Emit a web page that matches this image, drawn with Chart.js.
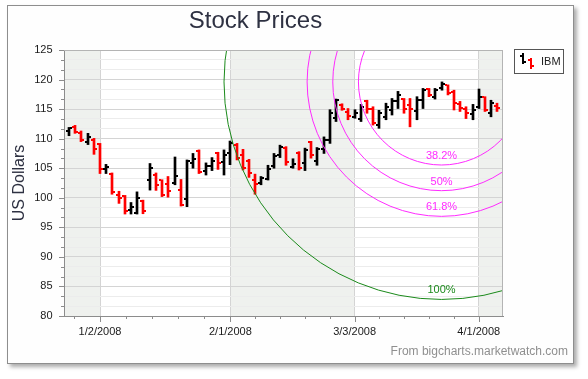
<!DOCTYPE html>
<html><head><meta charset="utf-8">
<script src="https://cdn.jsdelivr.net/npm/chart.js@4"></script>
<style>
html,body{margin:0;padding:0;background:#ffffff;}
#frame{position:absolute;left:7px;top:5px;width:567px;height:359px;box-sizing:border-box;border:1px solid #8e8e8e;background:#fefefe;box-shadow:3px 3px 4px rgba(0,0,0,0.33);}
#wrap{position:absolute;left:0;top:0;width:565px;height:357px;}
</style></head><body>
<div id="frame"><div id="wrap"><canvas id="c"></canvas></div></div>
<script>
const dates = ['12/24/2007','12/26/2007','12/27/2007','12/28/2007','12/31/2007',
 '1/2/2008','1/3/2008','1/4/2008','1/7/2008','1/8/2008','1/9/2008','1/10/2008','1/11/2008','1/14/2008','1/15/2008','1/16/2008','1/17/2008','1/18/2008','1/22/2008','1/23/2008','1/24/2008','1/25/2008','1/28/2008','1/29/2008','1/30/2008','1/31/2008',
 '2/1/2008','2/4/2008','2/5/2008','2/6/2008','2/7/2008','2/8/2008','2/11/2008','2/12/2008','2/13/2008','2/14/2008','2/15/2008','2/19/2008','2/20/2008','2/21/2008','2/22/2008','2/25/2008','2/26/2008','2/27/2008','2/28/2008','2/29/2008',
 '3/3/2008','3/4/2008','3/5/2008','3/6/2008','3/7/2008','3/10/2008','3/11/2008','3/12/2008','3/13/2008','3/14/2008','3/17/2008','3/18/2008','3/19/2008','3/20/2008','3/24/2008','3/25/2008','3/26/2008','3/27/2008','3/28/2008','3/31/2008',
 '4/1/2008','4/2/2008','4/3/2008','4/4/2008'];
const openPrices = [111.3,111.9,110.9,109.4,109.8,
 109.1,104.8,104.1,100.5,100.3,97.9,97.5,99.45,103.0,103.9,102.95,102.4,102.5,101.3,99.85,105.8,107.95,104.6,105.3,107.5,106.0,
 107.5,109.0,107.2,106.3,103.0,102.55,103.1,105.3,107.2,108.4,105.2,107.6,105.8,109.4,106.3,108.3,109.8,113.55,115.7,114.5,
 113.7,113.4,116.4,115.1,112.3,113.7,114.85,116.3,116.7,115.7,114.6,116.5,118.4,117.1,118.6,119.0,117.95,115.8,115.1,114.1,
 115.4,117.0,114.3,115.6];
const highPrices = [111.9,112.25,111.3,110.9,110.05,
 109.2,105.65,104.2,101.1,100.4,99.2,101.0,99.6,105.8,104.2,103.05,103.6,106.9,103.1,106.4,107.5,108.1,105.9,106.8,107.7,108.1,
 109.6,109.2,108.2,106.5,104.0,103.6,105.5,107.5,108.9,108.65,106.6,107.8,108.4,109.55,108.5,110.3,114.9,116.7,115.9,115.1,
 114.9,115.8,116.5,115.4,114.8,116.0,116.8,118.0,116.8,116.8,117.1,118.5,118.5,118.5,119.6,119.1,118.2,116.3,115.4,115.8,
 118.4,117.1,116.5,116.0];
const lowPrices = [110.5,110.9,109.5,109.0,107.35,
 104.1,104.1,100.6,99.05,97.25,97.25,97.25,97.3,101.3,101.25,100.2,100.1,102.2,98.6,98.5,105.0,104.1,103.85,104.6,104.8,103.85,
 105.6,106.4,104.7,103.45,100.6,102.2,103.0,105.0,106.8,105.5,105.0,104.7,104.6,106.7,105.5,107.5,109.2,112.9,114.8,113.2,
 113.45,112.9,114.3,112.3,111.75,113.2,114.0,115.1,114.3,112.0,113.2,115.1,117.1,116.7,118.2,117.4,114.85,114.6,113.4,113.2,
 115.1,114.6,113.7,114.6];
const closePrices = [111.8,111.1,109.8,110.2,108.2,
 104.8,105.2,100.9,100.0,97.8,98.5,100.0,97.8,105.1,102.15,100.45,101.1,103.6,98.75,106.3,106.6,104.4,105.35,106.3,105.8,107.3,
 109.3,106.8,105.0,104.2,102.4,103.3,104.8,107.0,108.6,106.1,105.7,105.0,108.0,107.2,108.2,109.8,114.4,116.5,115.0,113.8,
 114.4,115.4,115.0,112.6,114.3,115.4,116.3,117.4,115.1,115.1,116.5,118.2,117.4,118.2,119.2,117.7,116.0,115.2,114.3,114.85,
 117.1,114.85,116.0,115.2];
const tickLabels = ['1/2/2008','2/1/2008','3/3/2008','4/1/2008'];
const yTickLabels = [80,85,90,95,100,105,110,115,120,125];
const fibPoints = ['2/7/2008','3/24/2008'];
const fibLevels = [0.382,0.5,0.618,1];
const fibLabels = ['38.2%','50%','61.8%','100%'];
const seriesName = 'IBM';

const FONT = '"Liberation Sans", Arial, sans-serif';
const UP = '#000000', DOWN = '#ff0000';
const isUp = closePrices.map((c,i)=> c >= openPrices[i]);
const tickIdx = tickLabels.map(d => dates.indexOf(d));
const yTicks = [];
for (let k = 0; k < yTickLabels.length; k++) {
  yTicks.push(yTickLabels[k]);
  if (k < yTickLabels.length - 1) {
    const step = (yTickLabels[k+1] - yTickLabels[k]) / 3;
    yTicks.push(yTickLabels[k] + step, yTickLabels[k] + 2*step);
  }
}

const bgPlugin = {
  id: 'bg',
  beforeDraw(chart) {
    const {ctx, chartArea: a, scales: {x}} = chart;
    ctx.save();
    ctx.fillStyle = '#ffffff';
    ctx.fillRect(a.left, a.top, a.width, a.height);
    const edges = [a.left, ...tickIdx.map(v => x.getPixelForValue(v)), a.right];
    ctx.fillStyle = '#eff1ee';
    for (let k = 0; k < edges.length - 1; k += 2) ctx.fillRect(edges[k], a.top, edges[k+1]-edges[k], a.height);
    ctx.restore();
  },
  beforeDatasetsDraw(chart) {
    chart.getDatasetMeta(0).data.forEach(el => { el.x = Math.round(el.x); });
  }
};

const ohlcPlugin = {
  id: 'ohlc',
  afterDatasetsDraw(chart) {
    const {ctx, chartArea: a, scales: {x, y}} = chart;
    ctx.save();
    chart.getDatasetMeta(0).data.forEach((el, i) => {
      const xp = Math.round(el.x);
      ctx.fillStyle = isUp[i] ? UP : DOWN;
      ctx.fillRect(xp - 3, Math.round(y.getPixelForValue(openPrices[i])) - 1, 2, 2);
      ctx.fillRect(xp + 1, Math.round(y.getPixelForValue(closePrices[i])) - 1, 2, 2);
    });
    // Fibonacci arcs
    const i1 = dates.indexOf(fibPoints[0]), i2 = dates.indexOf(fibPoints[1]);
    const p1 = {x: x.getPixelForValue(i1), y: y.getPixelForValue(lowPrices[i1])};
    const p2 = {x: x.getPixelForValue(i2), y: y.getPixelForValue(highPrices[i2])};
    const R = Math.hypot(p2.x - p1.x, p2.y - p1.y);
    ctx.beginPath(); ctx.rect(a.left, a.top, a.width, a.height); ctx.clip();
    fibLevels.forEach((lv, k) => {
      const col = lv === 1 ? '#1b8a1b' : '#ff2bff';
      const r = R * lv;
      ctx.strokeStyle = col; ctx.lineWidth = 1;
      ctx.beginPath(); ctx.arc(p2.x, p2.y, r, 0, Math.PI * 2); ctx.stroke();
      ctx.fillStyle = col; ctx.font = '11px ' + FONT;
      ctx.textAlign = 'center'; ctx.textBaseline = 'middle';
      ctx.fillText(fibLabels[k], p2.x, p2.y + r - 9);
    });
    ctx.restore();
  },
  afterDraw(chart) {
    const {ctx, chartArea: a, scales: {x, y}} = chart;
    ctx.save();
    ctx.strokeStyle = '#b4b4b4'; ctx.lineWidth = 1;
    ctx.beginPath();
    ctx.moveTo(a.left, Math.round(a.top) + 0.5); ctx.lineTo(a.right, Math.round(a.top) + 0.5);
    ctx.moveTo(Math.round(a.right) - 0.5, a.top); ctx.lineTo(Math.round(a.right) - 0.5, a.bottom);
    ctx.stroke();
    // tick marks
    ctx.strokeStyle = '#8c8c8c';
    ctx.beginPath();
    yTicks.forEach((v, k) => {
      const yp = Math.round(y.getPixelForValue(v)) + 0.5;
      const len = k % 3 === 0 ? 5 : 3;
      ctx.moveTo(a.left - len, yp); ctx.lineTo(a.left, yp);
    });
    const px = tickIdx.map(v => x.getPixelForValue(v));
    const bot = Math.round(a.bottom);
    px.forEach(p => { const xp = Math.round(p) + 0.5; ctx.moveTo(xp, bot); ctx.lineTo(xp, bot + 6); });
    const minor = [];
    for (let k = 0; k < px.length - 1; k++) {
      const st = (px[k+1] - px[k]) / 5;
      for (let m = 1; m < 5; m++) minor.push(px[k] + st * m);
    }
    const st0 = (px[1] - px[0]) / 5, stN = (px[px.length-1] - px[px.length-2]) / 5;
    for (let p = px[0] - st0; p >= a.left; p -= st0) minor.push(p);
    for (let p = px[px.length-1] + stN; p <= a.right; p += stN) minor.push(p);
    minor.forEach(p => { const xp = Math.round(p) + 0.5; ctx.moveTo(xp, bot); ctx.lineTo(xp, bot + 3); });
    ctx.stroke();
    // legend
    const lx = Math.round(a.right) + 11, ly = Math.round(a.top) - 1;
    ctx.fillStyle = '#ffffff';
    ctx.fillRect(lx, ly, 49, 24);
    ctx.strokeStyle = '#555555';
    ctx.strokeRect(lx + 0.5, ly + 0.5, 49, 24);
    ctx.fillStyle = UP;
    ctx.fillRect(lx + 8, ly + 4, 2, 11);
    ctx.fillRect(lx + 6, ly + 6, 2, 2);
    ctx.fillRect(lx + 10, ly + 12, 2, 2);
    ctx.fillStyle = DOWN;
    ctx.fillRect(lx + 16, ly + 9, 2, 11);
    ctx.fillRect(lx + 14, ly + 10, 2, 2);
    ctx.fillRect(lx + 18, ly + 16, 2, 2);
    ctx.fillStyle = '#222222';
    ctx.font = '11px ' + FONT; ctx.textAlign = 'left'; ctx.textBaseline = 'middle';
    ctx.fillText(seriesName, lx + 27, ly + 12.5);
    // source note
    ctx.fillStyle = '#8f8f8f';
    ctx.font = '12px ' + FONT; ctx.textAlign = 'right'; ctx.textBaseline = 'middle';
    ctx.fillText('From bigcharts.marketwatch.com', chart.width - 5, 346);
    ctx.restore();
  }
};

new Chart(document.getElementById('c'), {
  type: 'bar',
  data: {
    datasets: [{
      label: seriesName,
      data: lowPrices.map((l, i) => ({x: i, y: [l, highPrices[i]]})),
      backgroundColor: isUp.map(u => u ? UP : DOWN),
      borderWidth: 0,
      barThickness: 2,
      grouped: false
    }]
  },
  options: {
    responsive: true,
    maintainAspectRatio: false,
    animation: false,
    layout: {padding: {left: 0, right: 70, top: 0, bottom: 0}},
    plugins: {
      legend: {display: false},
      tooltip: {enabled: false},
      title: {
        display: true, text: 'Stock Prices', color: '#2e3142',
        font: {family: FONT, size: 24, weight: 'normal'},
        padding: {top: 0.5, bottom: 14.7}
      }
    },
    scales: {
      x: {
        type: 'linear', min: -0.8, max: 69.9, offset: false,
        afterBuildTicks: s => { s.ticks = tickIdx.map(v => ({value: v})); },
        afterFit: s => { s.height = 47; },
        ticks: {autoSkip: false, maxRotation: 0, padding: 3, color: '#1a1a1a',
          font: {family: FONT, size: 11}, callback: v => dates[v]},
        grid: {offset: false, color: '#d4d4d4', drawTicks: true, tickLength: 6, tickColor: 'rgba(0,0,0,0)'},
        border: {color: '#8c8c8c'}
      },
      y: {
        min: 80, max: 125,
        afterBuildTicks: s => { s.ticks = yTicks.map(v => ({value: v})); },
        afterFit: s => { s.width = 56; },
        ticks: {autoSkip: false, padding: 6.5, color: '#1a1a1a', font: {family: FONT, size: 11},
          callback: (v, i) => i % 3 === 0 ? String(Math.round(v)) : ''},
        grid: {color: c => c.index % 3 === 0 ? '#d4d4d4' : '#ececec', drawTicks: true, tickLength: 5, tickColor: 'rgba(0,0,0,0)'},
        border: {color: '#8c8c8c'},
        title: {display: true, text: 'US Dollars', color: '#2e3142',
          font: {family: FONT, size: 16, weight: 'normal'}, padding: {top: 2, bottom: 0}}
      }
    }
  },
  plugins: [bgPlugin, ohlcPlugin]
});
</script>
</body></html>
